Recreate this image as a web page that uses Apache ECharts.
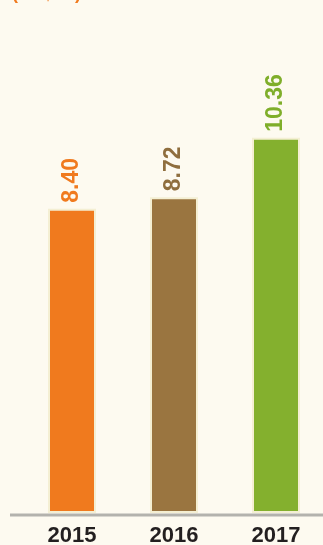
<!DOCTYPE html>
<html><head><meta charset="utf-8">
<script src="https://cdn.jsdelivr.net/npm/echarts@6/dist/echarts.min.js"></script>
<style>html,body{margin:0;padding:0;background:#fdfaf0;}#c{width:323px;height:545px;}</style>
</head><body><div id="c"></div>
<script>
const categories = ['2015', '2016', '2017'];
const values = [8.40, 8.72, 10.36];
const barColors = ['#f07a1e', '#9a7540', '#84b02e'];
const labelColors = ['#f07a1e', '#8f6e3e', '#7fae2a'];
const unitText = '(US$bn)';

const chart = echarts.init(document.getElementById('c'), null, {renderer: 'canvas'});
chart.setOption({
  backgroundColor: '#fdfaf0',
  animation: false,
  grid: {left: 21, width: 306, top: 6, bottom: 32, containLabel: false, outerBoundsMode: 'none'},
  xAxis: {
    type: 'category', data: categories,
    axisLine: {show: false}, axisTick: {show: false},
    axisLabel: {margin: 12, color: '#231f20', fontFamily: 'Liberation Sans', fontWeight: 'bold', fontSize: 22}
  },
  yAxis: {type: 'value', min: 0, max: 14, show: false, splitLine: {show: false}},
  graphic: [
    {type: 'line', shape: {x1: 10, y1: 515, x2: 323, y2: 515}, style: {stroke: '#b3b2ad', lineWidth: 3}, z: 10},
    {type: 'text', left: 12, top: -15, style: {text: unitText, fill: '#f07a1e', font: 'bold 18px Liberation Sans'}}
  ],
  series: [{
    type: 'bar', barWidth: 48,
    data: values.map((v, i) => ({
      value: v,
      itemStyle: {color: barColors[i], borderColor: '#f4efd3', borderWidth: 2},
      label: {color: labelColors[i]}
    })),
    label: {
      show: true, position: 'top', rotate: 90, distance: 6,
      align: 'left', verticalAlign: 'middle',
      formatter: p => p.value.toFixed(2),
      fontFamily: 'Liberation Sans', fontWeight: 'bold', fontSize: 23
    }
  }]
});
</script></body></html>
